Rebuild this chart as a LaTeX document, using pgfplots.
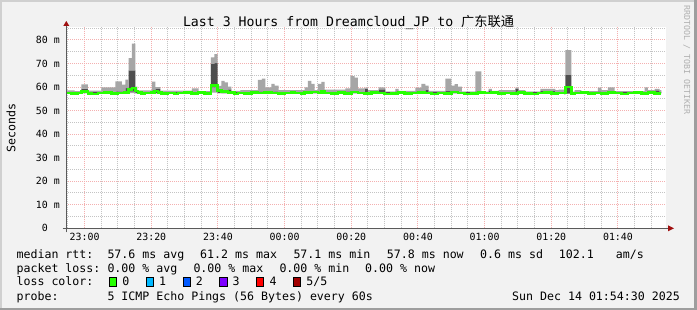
\documentclass[border=0pt]{standalone}
\usepackage{pgfplots}
\pgfplotsset{compat=1.18}
\usepackage{pgfplotstable}
\usepackage{fontspec}
\setmainfont{DejaVu Sans Mono}
\setmonofont{DejaVu Sans Mono}
\newfontfamily\cjk{Noto Sans CJK SC}

\definecolor{canvas}{HTML}{F2F2F2}
\definecolor{shadeA}{HTML}{D0D0D0}
\definecolor{shadeB}{HTML}{9E9E9E}
\definecolor{mgrid}{HTML}{F4B0B0}
\definecolor{mingrid}{HTML}{C4C4C4}
\definecolor{smokeL}{HTML}{A6A6A6}
\definecolor{smokeD}{HTML}{4E4E4E}
\definecolor{medgreen}{HTML}{26FF00}
\definecolor{arrowred}{HTML}{A01010}
\definecolor{axiscol}{HTML}{5A5A5A}
\definecolor{rrdgrey}{HTML}{B0B0B0}
\definecolor{lossA}{HTML}{26FF00}
\definecolor{lossB}{HTML}{00B8FF}
\definecolor{lossC}{HTML}{0059FF}
\definecolor{lossD}{HTML}{7E00FF}
\definecolor{lossE}{HTML}{FF0000}
\definecolor{lossF}{HTML}{A10000}

\pgfplotstableread{
t lo dlo dhi hi
-6 57.3 57.4 57.9 58.6
-3 57.3 57.4 57.9 58.3
-1 57.3 57.5 59.3 61.1
1 57.3 57.4 57.9 58.5
5 57.3 57.4 57.9 59.9
9.2 57.3 57.4 58.2 62.4
11.2 57.3 57.4 58.2 61.0
12.2 57.3 57.5 59.5 63.1
13.2 57.4 58.0 67.1 72.3
14.2 57.4 58.0 67.1 78.4
15.2 57.3 57.4 58.4 60.2
15.8 57.3 57.4 57.9 58.6
20.2 57.3 57.4 58.6 62.3
21.2 57.3 57.4 59.2 60.0
22.7 57.3 57.4 57.9 58.5
32.2 57.3 57.4 57.9 59.4
34.2 57.3 57.4 57.9 58.3
37.9 57.6 59.8 69.8 72.6
38.9 57.6 59.8 70.1 74.0
39.9 57.3 57.5 59.3 60.5
41 57.3 57.4 58.3 62.6
42 57.3 57.4 58.3 62.0
43 57.3 57.4 59.0 60.2
44 57.3 57.4 57.9 58.4
46.7 57.3 57.4 57.9 58.7
52 57.3 57.4 58.2 63.0
53.2 57.3 57.4 58.2 63.6
54.2 57.3 57.4 57.9 59.8
56 57.3 57.4 58.2 61.3
57 57.3 57.4 58.2 60.6
58.2 57.3 57.4 57.9 58.7
66 57.3 57.4 57.9 59.9
67 57.3 57.4 58.3 62.6
68 57.3 57.4 58.3 61.3
69 57.3 57.4 57.9 58.7
70 57.3 57.4 58.2 61.3
71 57.3 57.4 58.2 62.2
72 57.3 57.4 57.9 58.9
78.2 57.3 57.4 58.2 59.4
79.7 57.3 57.4 58.3 64.6
81 57.3 57.4 58.3 64.0
82 57.3 57.4 57.9 59.4
84 57.3 57.4 59.3 59.7
85 57.3 57.4 57.9 58.7
88.2 57.3 57.4 59.0 59.8
90.2 57.3 57.4 57.9 58.1
93.2 57.3 57.4 58.2 59.2
94.2 57.3 57.4 57.9 58.4
99.2 57.3 57.4 58.2 59.7
101 57.3 57.4 58.2 61.3
102.2 57.3 57.4 58.8 60.6
103.2 57.3 57.4 57.9 58.4
108.2 57.3 57.4 58.3 63.6
110 57.3 57.4 58.4 60.6
111 57.3 57.4 58.4 61.2
112 57.3 57.4 58.0 60.2
113.2 57.3 57.4 57.9 58.0
117.2 57.3 57.4 58.2 66.6
119 57.3 57.4 57.9 58.0
121.2 57.3 57.4 58.6 59.2
122.2 57.3 57.4 57.9 58.4
124.2 57.3 57.4 57.9 58.7
129.2 57.3 57.4 59.2 59.7
130.2 57.3 57.4 57.9 58.7
132.2 57.3 57.4 57.9 58.0
136.7 57.3 57.4 58.3 59.2
141.2 57.3 57.4 57.9 58.7
142.2 57.3 57.4 57.9 58.9
143.9 56.9 56.9 59.4 59.4
144.2 57.2 57.2 65.2 75.7
146 56.9 56.9 57.3 58.0
147 57.3 57.4 57.9 58.7
149 57.3 57.4 57.9 58.3
154 57.3 57.4 58.2 59.7
155 57.3 57.4 57.9 58.7
157 57.3 57.4 58.2 59.9
159 57.3 57.4 57.9 58.3
168 57.3 57.4 58.0 59.9
169 57.3 57.4 57.9 58.7
171 57.3 57.4 58.6 59.2
172.5 57.3 57.4 57.9 58.7
173 57.3 57.4 57.9 58.7
}\smoke

\pgfplotstableread{
t med
-6 57.4
-4 57.2
-2 57.5
-1 58.2
1 57.3
2 57.0
4 57.4
6 57.6
8 57.3
10 57.5
12 57.8
13.2 59.0
14.2 59.6
15.2 58.3
16 57.6
17 57.1
18 57.4
20 57.6
21 58.3
22 57.8
23 57.2
25 57.5
27 57.1
28 57.4
30 57.6
32 57.3
34 57.6
36 57.2
37.9 60.6
39.9 58.5
41 58.0
43 57.6
45 57.1
46 57.5
48 57.3
50 57.7
52 57.4
54 57.8
56 57.5
58 57.2
60 57.5
62 57.8
63 57.4
65 57.1
66 57.6
68 57.9
70 57.4
71 58.0
72 57.5
74 57.2
76 57.6
78 57.3
80 57.9
82 57.5
84 57.2
86 57.6
88 57.4
90 57.0
92 57.3
94 57.6
96 57.2
98 57.5
100 57.8
102 57.4
104 57.1
106 57.5
108 57.3
110 57.9
112 57.4
114 57.0
116 57.3
118 57.6
120 57.4
122 57.7
124 57.3
126 57.5
128 57.2
130 57.6
132 57.3
134 57.0
136 57.4
138 57.6
140 57.2
142 57.5
144.2 60.0
146 57.0
147 57.4
149 57.7
151 57.3
153 57.5
155 57.2
157 57.6
159 57.4
161 57.0
163 57.4
165 57.6
167 57.3
169 57.7
171 57.2
173 57.2
}\median

\newcommand{\lgf}{\fontsize{11.6}{13}\selectfont}

\begin{document}
\begin{tikzpicture}[x=1pt,y=1pt]
\fill[canvas] (0,0) rectangle (697,310);
\fill[shadeA] (0,0) rectangle (2,310);
\fill[shadeA] (0,308) rectangle (697,310);
\fill[shadeB] (694,0) rectangle (697,310);
\fill[shadeB] (0,0) rectangle (697,2);

\begin{axis}[
  at={(66.3pt,81.7pt)}, anchor=south west,
  scale only axis, width=600pt, height=201.3pt,
  xmin=-5.5, xmax=174.5, ymin=0, ymax=85.5,
  axis background/.style={fill=white},
  axis line style={draw opacity=0},
  major tick length=0pt, minor tick length=0pt,
  xtick={0,20,...,160},
  xticklabels={23:00,23:20,23:40,00:00,00:20,00:40,01:00,01:20,01:40},
  minor xtick={-5,5,10,15,25,30,35,45,50,55,65,70,75,85,90,95,105,110,115,125,130,135,145,150,155,165,170},
  ytick={0,10,...,80},
  yticklabels={0\phantom{\ m},10 m,20 m,30 m,40 m,50 m,60 m,70 m,80 m},
  minor ytick={5,15,...,85},
  grid=both,
  major grid style={mgrid, line width=1pt, dash pattern=on 1pt off 1pt},
  minor grid style={mingrid, line width=1pt, dash pattern=on 1pt off 1pt},
  xticklabel style={font={\fontsize{9.9}{11}\selectfont}, inner sep=0pt, anchor=north, yshift=-4.7pt},
  yticklabel style={font={\fontsize{9.9}{11}\selectfont}, inner sep=0pt, anchor=east, xshift=-6.3pt},
]
\addplot[draw=none, const plot, stack plots=y, mark=none] table[x=t,y=lo]{\smoke};
\addplot[fill=smokeL, draw=none, const plot, stack plots=y, mark=none] table[x=t,y expr=\thisrow{dlo}-\thisrow{lo}]{\smoke} \closedcycle;
\addplot[fill=smokeD, draw=none, const plot, stack plots=y, mark=none] table[x=t,y expr=\thisrow{dhi}-\thisrow{dlo}]{\smoke} \closedcycle;
\addplot[fill=smokeL, draw=none, const plot, stack plots=y, mark=none] table[x=t,y expr=\thisrow{hi}-\thisrow{dhi}]{\smoke} \closedcycle;
\addplot[medgreen, line width=2.6pt, const plot, mark=none, stack plots=false] table[x=t,y=med]{\median};
\end{axis}

% axis lines and arrows
\draw[axiscol, line width=1pt] (62.5,81.7) -- (669,81.7);
\draw[axiscol, line width=1pt] (66.3,77.5) -- (66.3,285);
\fill[arrowred] (668,78.7) -- (674,81.7) -- (668,84.7) -- cycle;
\fill[arrowred] (63.3,284) -- (66.3,289) -- (69.3,284) -- cycle;

% title and labels
\node[anchor=base, inner sep=0pt, font={\fontsize{13.2}{15}\selectfont}] at (348.5,283.5) {Last 3 Hours from Dreamcloud\_JP to {\cjk 广东联通}};
\node[rotate=90, inner sep=0pt, font=\lgf] at (11,182.4) {Seconds};
\node[rotate=-90, inner sep=0pt, text=rrdgrey, font={\fontsize{8.3}{9}\selectfont}] at (686.7,250) {RRDTOOL / TOBI OETIKER};

\begin{scope}[every node/.style={anchor=base west, inner sep=0pt, font=\lgf}]
\node at (16.4,51) {median rtt:};
\node at (107.3,51) {57.6 ms avg};
\node at (200,51) {61.2 ms max};
\node at (293.3,51) {57.1 ms min};
\node at (386.7,51) {57.8 ms now};
\node at (480,51) {0.6 ms sd};
\node at (558.7,51) {102.1};
\node at (615.6,51) {am/s};
\node at (16.4,37.5) {packet loss:};
\node at (107.3,37.5) {0.00 \% avg};
\node at (193.3,37.5) {0.00 \% max};
\node at (279.3,37.5) {0.00 \% min};
\node at (365,37.5) {0.00 \% now};
\node at (16.4,24) {loss color:};
\node at (122.1,24) {0};
\node at (158.9,24) {1};
\node at (195.7,24) {2};
\node at (232.5,24) {3};
\node at (269.3,24) {4};
\node at (306.1,24) {5/5};
\node at (16.4,9.8) {probe:};
\node at (107.3,9.8) {5 ICMP Echo Pings (56 Bytes) every 60s};
\node[anchor=base east] at (680,9.8) {Sun Dec 14 01:54:30 2025};
\end{scope}
\draw[black, line width=0.8pt, fill=lossA] (109.3,24) rectangle ++(7.2,8.2);
\draw[black, line width=0.8pt, fill=lossB] (146.1,24) rectangle ++(7.2,8.2);
\draw[black, line width=0.8pt, fill=lossC] (182.9,24) rectangle ++(7.2,8.2);
\draw[black, line width=0.8pt, fill=lossD] (219.7,24) rectangle ++(7.2,8.2);
\draw[black, line width=0.8pt, fill=lossE] (256.5,24) rectangle ++(7.2,8.2);
\draw[black, line width=0.8pt, fill=lossF] (293.3,24) rectangle ++(7.2,8.2);
\end{tikzpicture}
\end{document}
